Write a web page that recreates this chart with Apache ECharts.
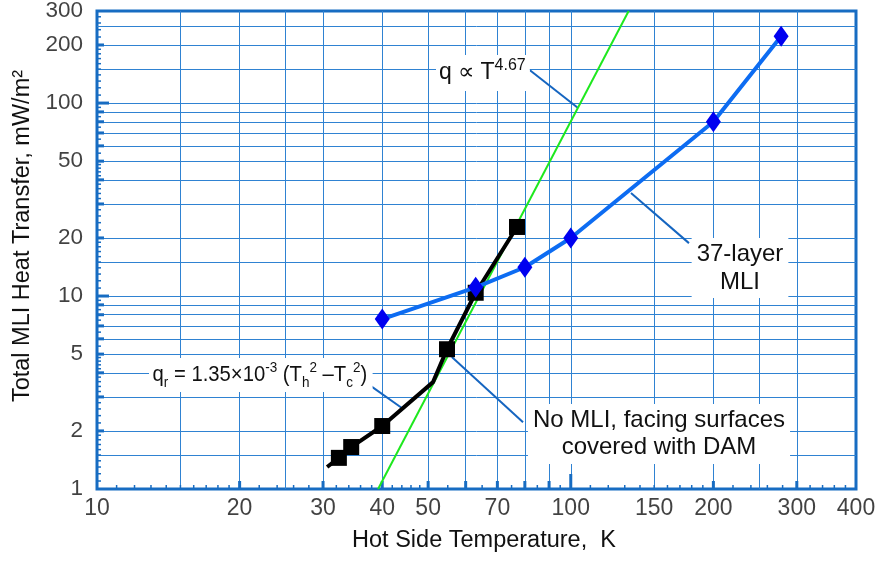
<!DOCTYPE html>
<html>
<head>
<meta charset="utf-8">
<script src="https://cdn.jsdelivr.net/npm/echarts@6/dist/echarts.min.js"></script>
<style>
html, body { margin: 0; padding: 0; background: #fff; }
#chart { width: 880px; height: 561px; }
</style>
</head>
<body>
<div id="chart"></div>
<script>
// 37-layer MLI (blue diamonds)
var mliT = [40, 63, 80, 100, 200, 278];
var mliQ = [7.6, 11.1, 14.1, 20, 80, 222];

// no MLI, DAM covered surfaces (black squares)
var damT = [32.4, 34.4, 40, 54.8, 63, 77];
var damQ = [1.45, 1.65, 2.12, 5.3, 10.4, 22.8];
// black curve through the squares
var damCurveT = [30.6, 32.4, 34.4, 40, 51.2, 54.8, 63, 77];
var damCurveQ = [1.3, 1.45, 1.65, 2.12, 3.58, 5.3, 10.4, 22.8];

// q ~ T^4.67 reference line
var powT = [39.2, 132.5];
var powQ = [1, 300];

// leader lines (from label to curve)
var leaderPowT = [82.0, 103.6], leaderPowQ = [148, 94.2];
var leaderMliT = [177.6, 134], leaderMliQ = [18.8, 34.2];
var leaderQrT = [37.1, 44.0], leaderQrQ = [3.54, 2.63];
var leaderDamT = [79.3, 56.1], leaderDamQ = [2.22, 4.83];

// axes
var xLabels = [10, 20, 30, 40, 50, 70, 100, 150, 200, 300, 400];
var yLabels = [1, 2, 5, 10, 20, 50, 100, 200, 300];
var xGrid = [15, 20, 25, 30, 40, 50, 60, 70, 80, 90, 100, 150, 200, 250, 300];
var yGrid = [1.5, 2, 3, 4, 5, 6, 7, 8, 9, 10, 15, 20, 30, 40, 50, 60, 70, 80, 90, 100, 150, 200, 250];
var xTickBig = [100];
var xTickMid = [20, 30, 40, 50, 60, 70, 80, 90, 200, 300];
var xTickSmall = [11, 12, 13, 14, 15, 16, 17, 18, 19, 22, 24, 26, 28, 32, 34, 36, 38, 42, 44, 46, 48,
    55, 65, 75, 85, 95, 110, 120, 130, 140, 150, 160, 170, 180, 190, 220, 240, 260, 280, 320, 340, 360, 380];
var yTickBig = [10, 100];
var yTickMid = [2, 3, 4, 5, 6, 7, 8, 9, 20, 30, 40, 50, 60, 70, 80, 90, 200];
var yTickSmall = [1.1, 1.2, 1.3, 1.4, 1.5, 1.6, 1.7, 1.8, 1.9, 2.2, 2.4, 2.6, 2.8, 3.2, 3.4, 3.6, 3.8,
    4.2, 4.4, 4.6, 4.8, 5.5, 6.5, 7.5, 8.5, 9.5, 11, 12, 13, 14, 15, 16, 17, 18, 19, 22, 24, 26, 28,
    32, 34, 36, 38, 42, 44, 46, 48, 55, 65, 75, 85, 95, 110, 120, 130, 140, 150, 160, 170, 180, 190,
    220, 240, 260, 280];

var FONT = '"Liberation Sans", Arial, Helvetica, sans-serif';
var frameColor = '#176cc2';
var gridColor = '#2f82d2';
var leaderColor = '#1565c0';
var ink = '#111';

function pairs(xs, ys) {
    return xs.map(function (x, i) { return [x, ys[i]]; });
}

function tickSeries(vals, axis, w, h) {
    return {
        type: 'scatter',
        silent: true,
        z: 3,
        symbol: 'rect',
        symbolSize: axis === 'x' ? [w, h] : [h, w],
        symbolOffset: axis === 'x' ? [0, -h / 2] : [h / 2, 0],
        itemStyle: { color: frameColor, opacity: 1 },
        data: vals.map(function (v) { return axis === 'x' ? [v, 1] : [10, v]; })
    };
}

function leader(xs, ys) {
    return {
        type: 'line',
        silent: true,
        z: 4,
        symbol: 'none',
        lineStyle: { color: leaderColor, width: 2 },
        data: pairs(xs, ys)
    };
}

var chart = document.getElementById('chart');
var myChart = echarts.init(chart);

var gridLines = xGrid.map(function (v) { return { xAxis: v }; })
    .concat(yGrid.map(function (v) { return { yAxis: v }; }));

option = {
    animation: false,
    grid: {
        left: 97, right: 24, top: 11, bottom: 72,
        show: true,
        borderColor: frameColor,
        borderWidth: 3
    },
    xAxis: {
        type: 'log',
        logBase: 10,
        min: 10,
        max: 400,
        axisLine: { show: false },
        axisTick: { show: false },
        axisLabel: { show: false },
        splitLine: { show: false },
        name: 'Hot Side Temperature,  K',
        nameLocation: 'middle',
        nameGap: 40,
        nameTextStyle: { fontFamily: FONT, fontSize: 23.5, color: ink, padding: [0, 0, 0, 15] }
    },
    yAxis: {
        type: 'log',
        logBase: 10,
        min: 1,
        max: 300,
        axisLine: { show: false },
        axisTick: { show: false },
        axisLabel: { show: false },
        splitLine: { show: false }
    },
    graphic: [
        {
            // y axis title
            type: 'text', x: 23, y: 236, rotation: Math.PI / 2, z: 50,
            style: {
                text: 'Total MLI Heat Transfer, mW/m²',
                fontFamily: FONT, fontSize: 23.5,
                fill: ink,
                align: 'center', verticalAlign: 'middle',
                textAlign: 'center', textVerticalAlign: 'middle'
            }
        },
        {
            type: 'text', x: 436, y: 73, z: 50,
            style: {
                text: '{n|q ∝ T}{s|4.67}',
                align: 'left', verticalAlign: 'middle',
                textAlign: 'left', textVerticalAlign: 'middle',
                backgroundColor: '#fff',
                padding: [3, 4, 3, 3],
                rich: {
                    n: { fontFamily: FONT, fontSize: 23, lineHeight: 30, fill: ink, color: ink },
                    s: { fontFamily: FONT, fontSize: 16, lineHeight: 16, verticalAlign: 'top', fill: ink, color: ink }
                }
            }
        },
        {
            type: 'text', x: 149, y: 375, z: 50, scaleX: 0.9,
            style: {
                text: '{n|q}{b|r}{n| = 1.35×10}{s|-3}{n| (T}{b|h}{s|2}{n| –T}{b|c}{s|2}{n|)}',
                align: 'left', verticalAlign: 'middle',
                textAlign: 'left', textVerticalAlign: 'middle',
                backgroundColor: '#fff',
                padding: [2, 6, 2, 4],
                rich: {
                    n: { fontFamily: FONT, fontSize: 22.5, lineHeight: 30, fill: ink, color: ink },
                    s: { fontFamily: FONT, fontSize: 15, lineHeight: 15, verticalAlign: 'top', fill: ink, color: ink },
                    b: { fontFamily: FONT, fontSize: 15, lineHeight: 15, verticalAlign: 'bottom', fill: ink, color: ink }
                }
            }
        },
        {
            type: 'text', x: 740, y: 268, z: 50,
            style: {
                text: '37-layer\nMLI',
                fontFamily: FONT, fontSize: 24, lineHeight: 28,
                fill: ink,
                align: 'center', verticalAlign: 'middle',
                textAlign: 'center', textVerticalAlign: 'middle',
                backgroundColor: '#fff',
                padding: [2, 5, 2, 5]
            }
        },
        {
            type: 'text', x: 659, y: 434, z: 50,
            style: {
                text: 'No MLI, facing surfaces\ncovered with DAM',
                fontFamily: FONT, fontSize: 24, lineHeight: 27,
                fill: ink,
                align: 'center', verticalAlign: 'middle',
                textAlign: 'center', textVerticalAlign: 'middle',
                backgroundColor: '#fff',
                padding: [3, 5, 3, 5]
            }
        }
    ],
    series: [
        {
            // green reference line + the paper grid
            name: 'q ~ T^4.67',
            type: 'line',
            silent: true,
            z: 5,
            symbol: 'none',
            lineStyle: { color: '#1ee81e', width: 2 },
            data: pairs(powT, powQ),
            markLine: {
                silent: true,
                z: 1,
                symbol: ['none', 'none'],
                label: { show: false },
                lineStyle: { color: gridColor, width: 1, type: 'solid', opacity: 1 },
                data: gridLines
            }
        },
        tickSeries(xTickSmall, 'x', 1.5, 4),
        tickSeries(xTickMid, 'x', 3, 8),
        tickSeries(xTickBig, 'x', 3, 15),
        tickSeries(yTickSmall, 'y', 1.5, 4),
        tickSeries(yTickMid, 'y', 3, 7),
        tickSeries(yTickBig, 'y', 3, 12),
        {
            // x tick labels
            type: 'scatter',
            silent: true,
            symbolSize: 0,
            label: {
                show: true, position: 'bottom', distance: 8,
                fontFamily: FONT, fontSize: 23, color: ink,
                formatter: function (p) { return p.value[0]; }
            },
            data: xLabels.map(function (v) { return [v, 1]; })
        },
        {
            // y tick labels
            type: 'scatter',
            silent: true,
            symbolSize: 0,
            label: {
                show: true, position: 'left', distance: 14,
                fontFamily: FONT, fontSize: 22.5, color: ink,
                formatter: function (p) { return p.value[1]; }
            },
            data: yLabels.map(function (v) { return [10, v]; })
        },
        leader(leaderPowT, leaderPowQ),
        leader(leaderMliT, leaderMliQ),
        leader(leaderQrT, leaderQrQ),
        leader(leaderDamT, leaderDamQ),
        {
            name: 'No MLI curve',
            type: 'line',
            silent: true,
            z: 6,
            symbol: 'none',
            lineStyle: { color: '#000', width: 4 },
            data: pairs(damCurveT, damCurveQ)
        },
        {
            name: 'No MLI',
            type: 'scatter',
            silent: true,
            z: 7,
            symbol: 'rect',
            symbolSize: 16,
            itemStyle: { color: '#000', opacity: 1 },
            data: pairs(damT, damQ)
        },
        {
            name: '37-layer MLI',
            type: 'line',
            silent: true,
            z: 8,
            symbol: 'diamond',
            symbolSize: [15, 21],
            showAllSymbol: true,
            itemStyle: { color: '#0000f0', opacity: 1 },
            lineStyle: { color: '#0d6cf2', width: 4 },
            data: pairs(mliT, mliQ)
        }
    ]
};

myChart.setOption(option);
</script>
</body>
</html>
